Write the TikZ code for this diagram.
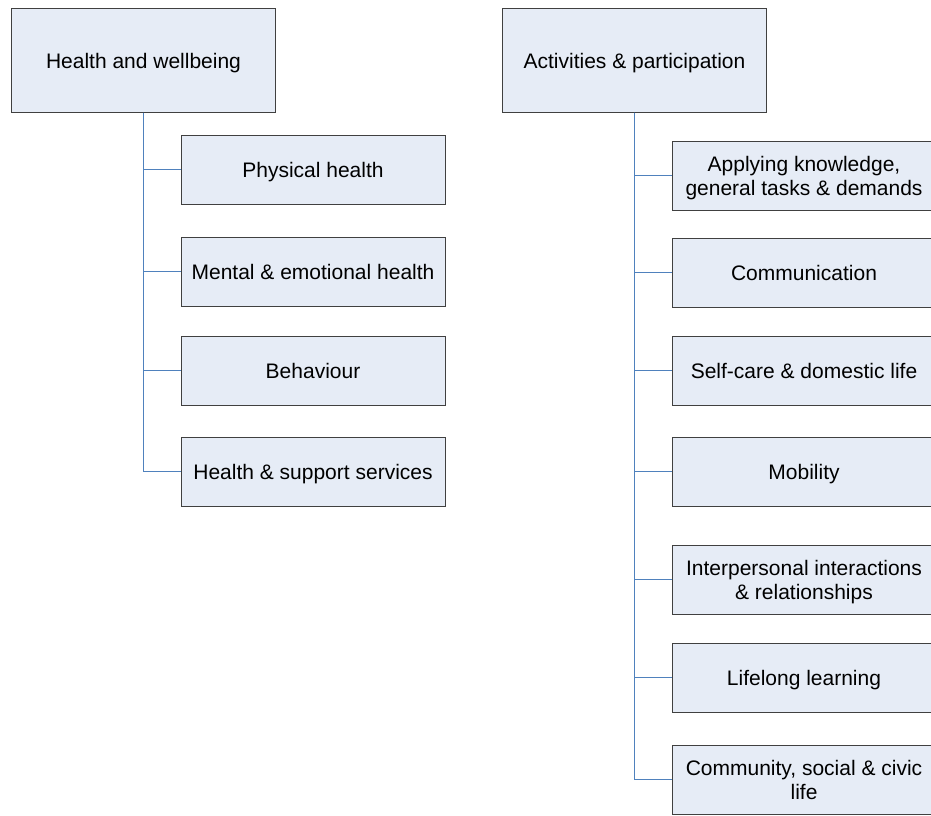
\documentclass[tikz,border=0pt]{standalone}
\usepackage{fontspec}
\setmainfont{Liberation Sans}
\definecolor{boxfill}{RGB}{230,236,246}
\definecolor{boxline}{RGB}{64,64,64}
\definecolor{linkblue}{RGB}{79,129,189}
\begin{document}
\begin{tikzpicture}[x=1pt,y=-1pt,
  catbox/.style={draw=boxline, fill=boxfill, line width=0.9pt, inner sep=0pt,
    minimum width=264pt, minimum height=103.5pt, align=center, text depth=0pt,
    font=\fontsize{21}{24}\selectfont},
  itembox/.style={catbox, minimum height=69pt},
  link/.style={draw=linkblue, line width=1pt}]
\path[use as bounding box] (0,0) rectangle (931,815);

% category headings
\node[catbox] (hw) at (143.5,60.5) {Health and wellbeing};
\node[catbox] (ap) at (634.5,60.5) {Activities \& participation};

% health and wellbeing items
\node[itembox] (h1) at (313,169.5) {Physical health};
\node[itembox] (h2) at (313,271.5) {Mental \& emotional health};
\node[itembox] (h3) at (313,370.5) {Behaviour};
\node[itembox] (h4) at (313,471.5) {Health \& support services};

% activities and participation items
\node[itembox] (a1) at (804,175.5) {Applying knowledge,\\general tasks \& demands};
\node[itembox] (a2) at (804,272.5) {Communication};
\node[itembox] (a3) at (804,370.5) {Self-care \& domestic life};
\node[itembox] (a4) at (804,471.5) {Mobility};
\node[itembox] (a5) at (804,579.5) {Interpersonal interactions\\\& relationships};
\node[itembox] (a6) at (804,677.5) {Lifelong learning};
\node[itembox] (a7) at (804,779.5) {Community, social \& civic\\life};

% tree connectors
\foreach \c in {h1,h2,h3,h4} \draw[link] (hw.south) |- (\c.west);
\foreach \c in {a1,a2,a3,a4,a5,a6,a7} \draw[link] (ap.south) |- (\c.west);
\end{tikzpicture}
\end{document}
